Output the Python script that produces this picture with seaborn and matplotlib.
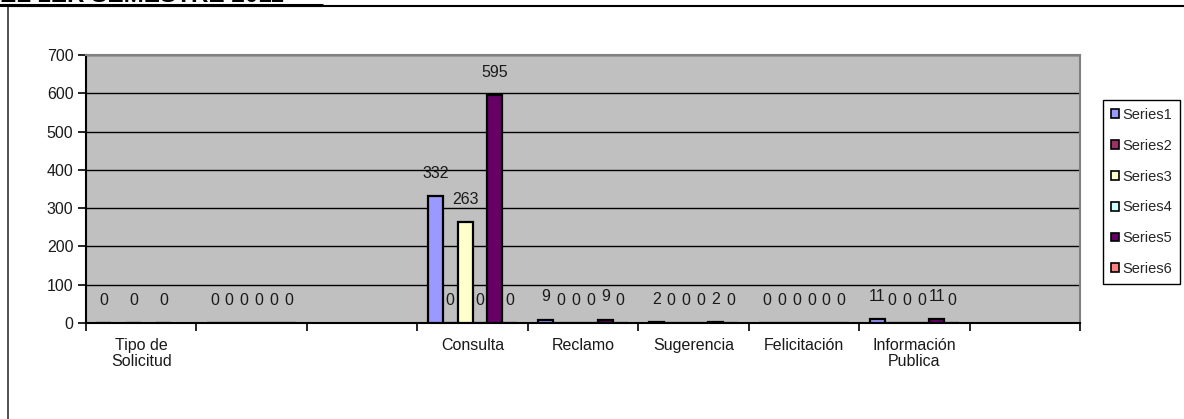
import numpy as np
import pandas as pd
import matplotlib
matplotlib.use("Agg")
import matplotlib.pyplot as plt
import seaborn as sns
from matplotlib.patches import Patch
from matplotlib.lines import Line2D

# ---- data ----
categories = ["Tipo de\nSolicitud", "", "", "Consulta", "Reclamo", "Sugerencia",
              "Felicitación", "Información\nPublica", ""]
series_names = ["Series1", "Series2", "Series3", "Series4", "Series5", "Series6"]
nan = np.nan
series1 = [0, 0, nan, 332, 9, 2, 0, 11, nan]
series2 = [nan, 0, nan, 0, 0, 0, 0, 0, nan]
series3 = [0, 0, nan, 263, 0, 0, 0, 0, nan]
series4 = [nan, 0, nan, 0, 0, 0, 0, 0, nan]
series5 = [0, 0, nan, 595, 9, 2, 0, 11, nan]
series6 = [nan, 0, nan, 0, 0, 0, 0, 0, nan]
all_series = [series1, series2, series3, series4, series5, series6]
colors = ["#9999FF", "#993366", "#FFFFCC", "#CCFFFF", "#660066", "#FF8080"]
yticks = [0, 100, 200, 300, 400, 500, 600, 700]
title = "EL 1ER SEMESTRE 2011"

cat_keys = [f"c{i}" for i in range(len(categories))]
rows = []
for name, vals in zip(series_names, all_series):
    for key, v in zip(cat_keys, vals):
        if not np.isnan(v):
            rows.append({"cat": key, "series": name, "value": v})
df = pd.DataFrame(rows)

sns.set_theme(style="white")
plt.rcParams["font.family"] = ["Liberation Sans", "DejaVu Sans"]

W, H = 1184, 419
fig = plt.figure(figsize=(W / 100, H / 100), dpi=100)
ax = fig.add_axes([86 / W, 1 - 323 / H, (1080 - 86) / W, (323 - 55) / H])
ax.set_facecolor("#C0C0C0")

sns.barplot(data=df, x="cat", y="value", hue="series", order=cat_keys,
            hue_order=series_names, palette=colors, width=0.81,
            edgecolor="black", linewidth=1.6, errorbar=None, legend=False,
            saturation=1, ax=ax, zorder=3)

for cont in ax.containers:
    ax.bar_label(cont, fmt="%g", padding=11, fontsize=11.5, color="#1a1a1a")

ax.set_xlim(-0.5, len(categories) - 0.5)
ax.set_ylim(0, 700)
ax.set_yticks(yticks)
ax.yaxis.grid(True, color="black", linewidth=1)
ax.set_axisbelow(True)
ax.set_xlabel("")
ax.set_ylabel("")
ax.set_xticks(range(len(categories)))
ax.set_xticklabels(categories, fontsize=11.5, color="#1a1a1a", linespacing=1.1)
ax.set_xticks(np.arange(-0.5, len(categories), 1.0), minor=True)
ax.tick_params(axis="x", which="major", length=0, pad=11)
ax.tick_params(axis="x", which="minor", length=6, width=1.2, direction="out",
               color="black", bottom=True)
ax.tick_params(axis="y", length=6, width=1.2, direction="out", color="black",
               labelsize=11.5, labelcolor="#1a1a1a", left=True, pad=3)
for s in ["left", "bottom"]:
    ax.spines[s].set_color("black")
    ax.spines[s].set_linewidth(1.5)
for s in ["top", "right"]:
    ax.spines[s].set_color("#808080")
    ax.spines[s].set_linewidth(1.5)

handles = [Patch(facecolor=c, edgecolor="black", linewidth=1.2) for c in colors]
leg = fig.legend(handles, series_names, loc="upper left",
                 bbox_to_anchor=(1103 / W, 1 - 100 / H), fontsize=10.5,
                 frameon=True, fancybox=False, framealpha=1, edgecolor="black",
                 handlelength=0.55, handleheight=0.55, handletextpad=0.2,
                 labelspacing=1.15, borderpad=0.55, borderaxespad=0)
leg.get_frame().set_linewidth(1)

# outer frame
fig.add_artist(Line2D([8 / W, 1], [1 - 6.5 / H, 1 - 6.5 / H], color="black",
                      linewidth=1.5, transform=fig.transFigure))
fig.add_artist(Line2D([8 / W, 8 / W], [1 - 6.5 / H, 0], color="#333333",
                      linewidth=1.2, transform=fig.transFigure))
# cut-off title with underline (the reference shows it clipped at the top edge)
fig.text(0.0, 1 - 2.5 / H, title, ha="left", va="baseline", fontsize=17.5,
         fontweight="bold", color="black")
fig.add_artist(Line2D([0, 322 / W], [1 - 4.8 / H, 1 - 4.8 / H], color="black",
                      linewidth=2.2, transform=fig.transFigure))

fig.savefig("out.png", dpi=100)
